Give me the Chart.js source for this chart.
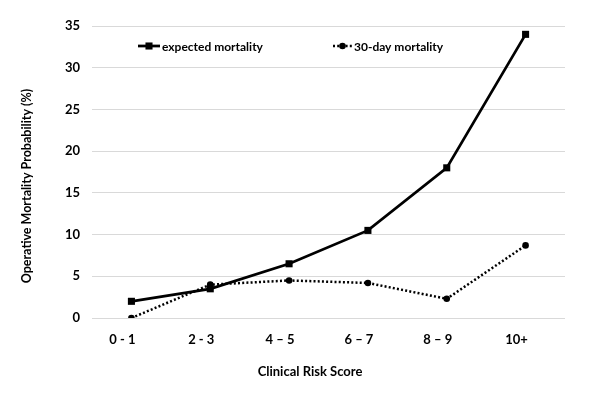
<!DOCTYPE html>
<html><head><meta charset="utf-8">
<script src="https://cdn.jsdelivr.net/npm/chart.js@4"></script>
<style>html,body{margin:0;padding:0;background:#fff}#wrap{width:616px;height:397px;position:relative}</style>
</head><body><div id="wrap"><canvas id="c"></canvas></div>
<script>
const categories = ['0 - 1', '2 - 3', '4 – 5', '6 – 7', '8 – 9', '10+'];
const expectedMortality = [2.0, 3.5, 6.5, 10.5, 18.0, 34.0];
const thirtyDayMortality = [0.0, 4.0, 4.5, 4.2, 2.3, 8.7];
const seriesNames = ['expected mortality', '30-day mortality'];
const yAxisTitle = 'Operative Mortality Probability (%)';
const xAxisTitle = 'Clinical Risk Score';

const FONT = 'Lato, "Open Sans", sans-serif';
Chart.defaults.font.family = FONT;
Chart.defaults.color = '#000';

const legendSlots = [{x: 138, w: 22}, {x: 333, w: 19}];
const insideLegend = {
  id: 'insideLegend',
  afterDraw(chart) {
    const ctx = chart.ctx;
    const y = 46;
    chart.data.datasets.forEach((ds, i) => {
      const s = legendSlots[i];
      ctx.save();
      ctx.strokeStyle = ds.borderColor;
      ctx.lineWidth = ds.borderWidth;
      ctx.setLineDash(ds.borderDash || []);
      ctx.beginPath();
      ctx.moveTo(s.x, y);
      ctx.lineTo(s.x + s.w, y);
      ctx.stroke();
      ctx.setLineDash([]);
      ctx.fillStyle = ds.pointBackgroundColor;
      Chart.helpers.drawPoint(ctx, {pointStyle: ds.pointStyle, radius: ds.pointRadius, borderWidth: 0, rotation: 0}, s.x + s.w / 2, y);
      ctx.fillStyle = '#000';
      ctx.font = 'bold 12px ' + FONT;
      ctx.textBaseline = 'middle';
      ctx.textAlign = 'left';
      ctx.fillText(ds.label, s.x + s.w + 2, y + 1);
      ctx.restore();
    });
  }
};

const axisTitles = {
  id: 'axisTitles',
  afterDraw(chart) {
    const ctx = chart.ctx;
    ctx.save();
    ctx.fillStyle = '#000';
    ctx.textAlign = 'center';
    ctx.textBaseline = 'middle';
    ctx.font = 'bold 13px ' + FONT;
    ctx.fillText(xAxisTitle, 310, 372);
    ctx.translate(27, 186);
    ctx.rotate(-Math.PI / 2);
    ctx.font = 'bold 12.5px ' + FONT;
    ctx.fillText(yAxisTitle, 0, 0);
    ctx.restore();
  }
};

new Chart(document.getElementById('c'), {
  type: 'line',
  data: {
    labels: categories,
    datasets: [
      {
        label: seriesNames[0],
        data: expectedMortality,
        borderColor: '#000',
        backgroundColor: '#000',
        pointBackgroundColor: '#000',
        pointBorderWidth: 0,
        borderWidth: 2.75,
        pointStyle: 'rect',
        pointRadius: 5,
        tension: 0
      },
      {
        label: seriesNames[1],
        data: thirtyDayMortality,
        borderColor: '#000',
        backgroundColor: '#000',
        pointBackgroundColor: '#000',
        pointBorderWidth: 0,
        borderWidth: 2.5,
        borderDash: [2, 2.2],
        pointStyle: 'circle',
        pointRadius: 3.3,
        tension: 0
      }
    ]
  },
  options: {
    responsive: true,
    maintainAspectRatio: false,
    animation: false,
    layout: {padding: {top: 26, right: 51, bottom: 0, left: 0}},
    plugins: {legend: {display: false}, tooltip: {enabled: false}},
    scales: {
      x: {
        offset: true,
        grid: {display: false, drawTicks: false},
        border: {display: false},
        ticks: {padding: 14, labelOffset: -9, font: {size: 13, weight: 'bold'}, color: '#000'},
        title: {display: false},
        afterFit(scale) { scale.height = 79; }
      },
      y: {
        min: 0, max: 35,
        ticks: {stepSize: 5, padding: 12, font: {size: 13, weight: 'bold'}, color: '#000'},
        grid: {color: '#d9d9d9', lineWidth: 1, drawTicks: false},
        border: {display: false},
        title: {display: false},
        afterFit(scale) { scale.width = 92; }
      }
    }
  },
  plugins: [insideLegend, axisTitles]
});
</script>
</body></html>
